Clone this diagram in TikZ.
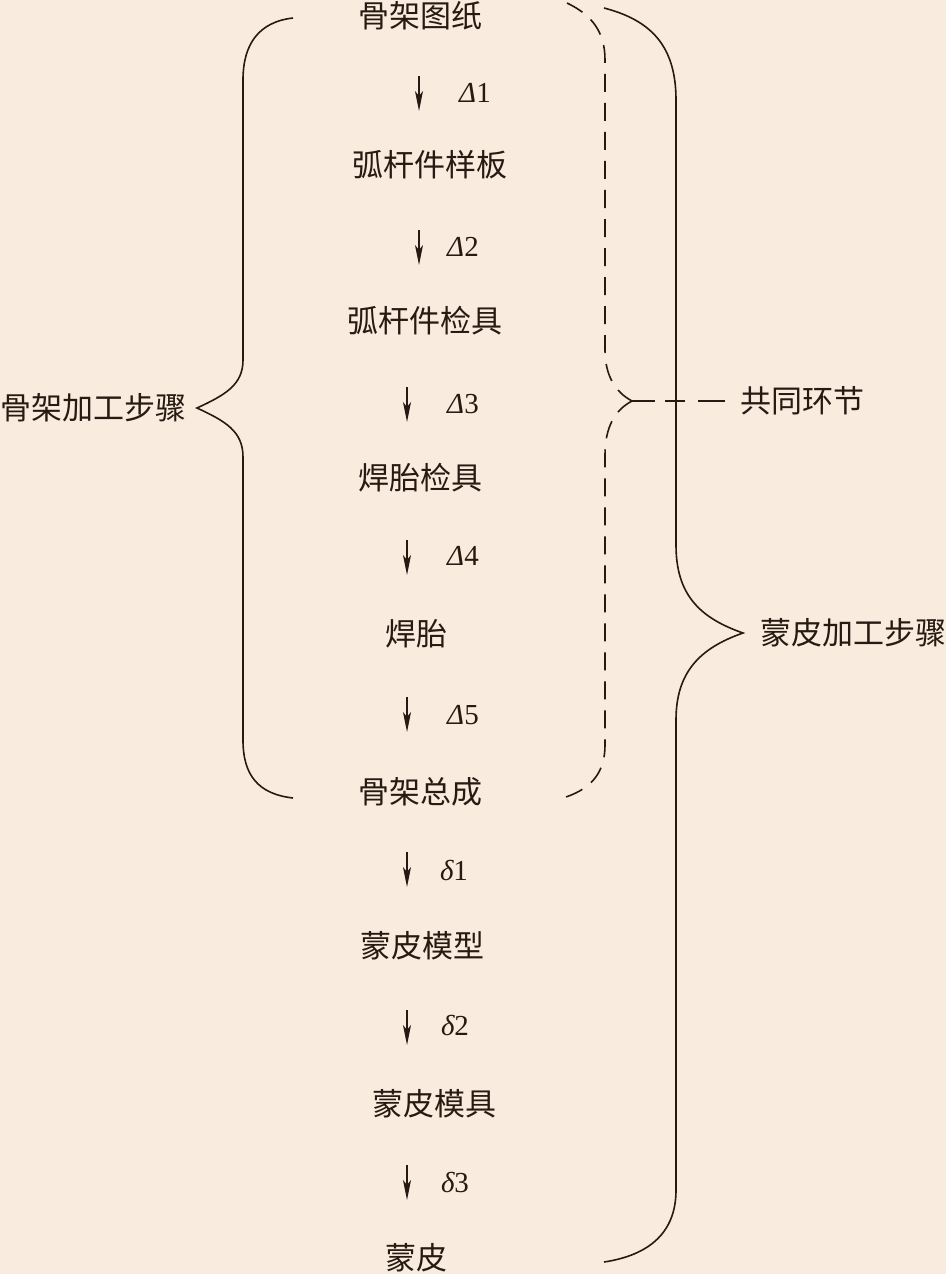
\documentclass[tikz,border=0pt]{standalone}
\usepackage{fontspec}
\newfontfamily\cjk{Noto Sans CJK SC}
\newfontfamily\tms{Liberation Serif}
\usetikzlibrary{arrows.meta}
\definecolor{bg}{RGB}{249,235,221}
\definecolor{ink}{RGB}{38,26,18}
\tikzset{
  lbl/.style={font=\cjk\fontsize{31}{36}\selectfont, text=ink, inner sep=0pt},
  sym/.style={font=\tms\fontsize{29}{34}\selectfont, text=ink, inner sep=0pt},
  arr/.style={draw=ink, line width=1.3pt, -{Stealth[length=20pt,width=8pt,inset=5pt]}},
  brace/.style={draw=ink, line width=1.6pt},
  dbrace/.style={draw=ink, line width=1.6pt, dash pattern=on 18pt off 11pt},
}
\newcommand{\Dl}[1]{{\itshape Δ}#1}
\newcommand{\dl}[1]{{\itshape δ}#1}
\begin{document}
\begin{tikzpicture}[x=1pt,y=-1pt]
\fill[bg] (0,0) rectangle (946,1274);
\useasboundingbox (0,0) rectangle (946,1274);
% step labels
\node[lbl] (n1) at (420,16) {骨架图纸};
\node[lbl] (n2) at (430,165) {弧杆件样板};
\node[lbl] (n3) at (425,321) {弧杆件检具};
\node[lbl] (n4) at (420,478) {焊胎检具};
\node[lbl] (n5) at (416,634) {焊胎};
\node[lbl] (n6) at (420,792) {骨架总成};
\node[lbl] (n7) at (422,946) {蒙皮模型};
\node[lbl] (n8) at (434,1104) {蒙皮模具};
\node[lbl] (n9) at (416,1258) {蒙皮};
% arrows
\foreach \i/\x/\ya in {1/419/76, 2/419/230, 3/407/387, 4/407/540, 5/407/697, 6/407/852, 7/407/1010, 8/407/1165}{
  \coordinate (s\i) at (\x,\ya);
  \coordinate (e\i) at (\x,\ya+35);
  \draw[arr] (s\i) -- (e\i);
}
% labels on arrows
\node[sym] (d1) at (475,93) {\Dl{1}};
\node[sym] (d2) at (463,247) {\Dl{2}};
\node[sym] (d3) at (463,404) {\Dl{3}};
\node[sym] (d4) at (463,556) {\Dl{4}};
\node[sym] (d5) at (463,715) {\Dl{5}};
\node[sym] (e1l) at (454,870) {\dl{1}};
\node[sym] (e2l) at (455,1025) {\dl{2}};
\node[sym] (e3l) at (455,1182) {\dl{3}};
% left brace
\draw[brace] (293,18) .. controls (258,22) and (243,45) .. (243,80) -- (243,360)
  .. controls (243,385) and (225,395) .. (197,408)
  .. controls (225,421) and (243,431) .. (243,457) -- (243,740)
  .. controls (243,775) and (258,794) .. (293,798);
\node[lbl, anchor=west] (L) at (0,408) {骨架加工步骤};
% dashed brace
\draw[dbrace] (567,3) .. controls (592,15) and (605,32) .. (605,60) -- (605,350)
  .. controls (605,375) and (615,392) .. (632,401);
\draw[dbrace] (632,401) .. controls (615,410) and (605,427) .. (605,455) -- (605,745)
  .. controls (605,772) and (592,788) .. (566,797);
\coordinate (tip) at (632,401);
\node[lbl, anchor=west] (C) at (740,401) {共同环节};
\draw[draw=ink, line width=1.6pt, dash pattern=on 23pt off 10pt on 20pt off 13pt on 27pt off 20pt] (tip) -- (C.west);
% right brace
\draw[brace] (604,8) .. controls (650,20) and (676,45) .. (676,100) -- (676,545)
  .. controls (676,595) and (700,618) .. (743,633)
  .. controls (700,648) and (676,672) .. (676,720) -- (676,1190)
  .. controls (676,1232) and (650,1255) .. (604,1262);
\node[lbl, anchor=west] (R) at (760,633) {蒙皮加工步骤};
\end{tikzpicture}
\end{document}
